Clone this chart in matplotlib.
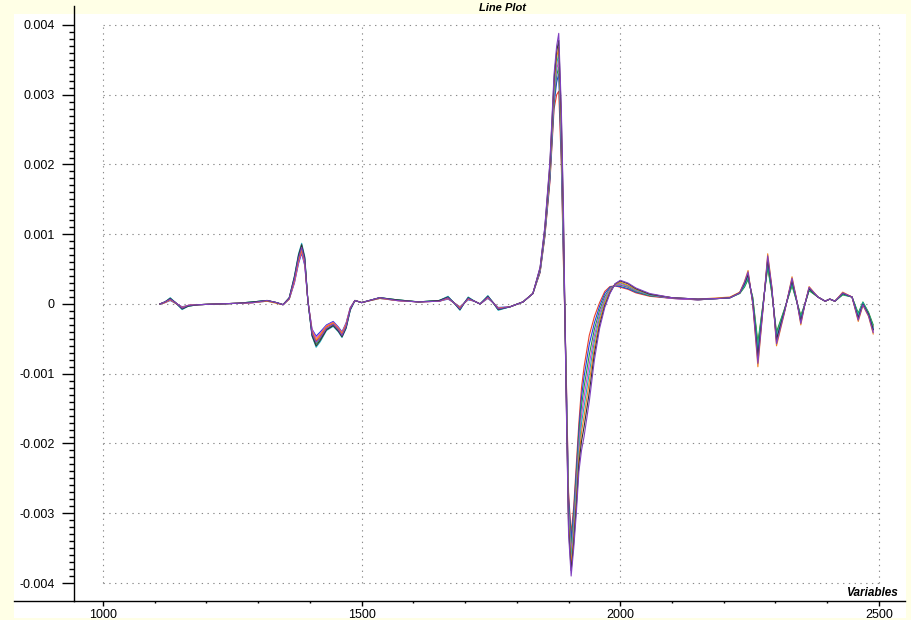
import numpy as np
import matplotlib
matplotlib.use("Agg")
import matplotlib.pyplot as plt
from matplotlib.lines import Line2D
from matplotlib.ticker import FixedLocator

plt.rcParams['font.family'] = ['Liberation Sans', 'DejaVu Sans']

# wavelength grid (variables)
wl = [1110, 1120, 1130, 1140, 1153, 1165, 1185, 1220, 1260, 1290,
      1317, 1335, 1348, 1360, 1370, 1378, 1384, 1390, 1396, 1404,
      1412, 1420, 1432, 1445, 1455, 1462, 1470, 1478, 1487, 1500,
      1535, 1568, 1610, 1650, 1667, 1678, 1690, 1698, 1706, 1718,
      1729, 1744, 1754, 1764, 1787, 1812, 1831, 1845, 1854, 1864,
      1872, 1877, 1881, 1886, 1890, 1895, 1900, 1905, 1910, 1915,
      1920, 1925, 1930, 1940, 1950, 1960, 1970, 1980, 1990, 2000,
      2015, 2030, 2057, 2100, 2150, 2193, 2212, 2231, 2240, 2247,
      2256, 2266, 2275, 2285, 2293, 2302, 2317, 2332, 2340, 2349,
      2357, 2365, 2382, 2396, 2405, 2415, 2430, 2448, 2460, 2469,
      2480, 2489]

# spectra, in units of 1e-4
spec_a = [0.0, 0.3, 0.7, 0.2, -0.6, -0.2, -0.1, 0.0, 0.1, 0.2,
          0.5, 0.2, -0.1, 0.8, 3.4, 6.4, 7.9, 6.1, 0.5, -4.0,
          -5.3, -4.6, -3.3, -2.8, -3.6, -4.3, -3.0, -0.7, 0.5, 0.2,
          0.9, 0.5, 0.3, 0.4, 0.9, 0.2, -0.6, 0.1, 0.8, 0.4,
          0.0, 1.0, 0.2, -0.7, -0.4, 0.3, 1.5, 4.5, 9.5, 17.5,
          28.0, 30.0, 30.5, 20.0, 6.0, -8.0, -27.0, -33.0, -29.0, -23.0,
          -17.0, -12.0, -9.0, -4.5, -1.8, 0.2, 1.8, 2.5, 2.6, 2.4,
          2.1, 1.6, 1.1, 0.8, 0.6, 0.8, 0.9, 1.6, 2.5, 3.7,
          0.9, -6.0, -0.6, 5.5, 1.6, -4.3, -0.9, 2.8, 0.7, -1.8,
          0.0, 2.0, 1.0, 0.4, 0.7, 0.4, 1.4, 1.0, -1.5, 0.2,
          -1.3, -3.2]
spec_b = [0.0, 0.2, 0.5, 0.1, -0.4, -0.2, -0.1, 0.0, 0.1, 0.2,
          0.4, 0.2, -0.1, 0.7, 3.0, 5.8, 7.3, 5.5, 0.5, -3.6,
          -4.6, -4.0, -3.0, -2.5, -3.3, -4.0, -2.7, -0.5, 0.5, 0.2,
          0.8, 0.5, 0.3, 0.4, 0.7, 0.2, -0.4, 0.1, 0.6, 0.4,
          0.0, 0.8, 0.2, -0.5, -0.4, 0.3, 1.5, 4.6, 9.7, 17.9,
          28.7, 31.8, 33.0, 21.1, 7.1, -8.6, -27.8, -33.8, -29.8, -24.0,
          -18.0, -13.3, -10.4, -5.8, -2.7, -0.3, 1.5, 2.4, 2.6, 2.5,
          2.2, 1.7, 1.2, 0.8, 0.6, 0.8, 0.9, 1.6, 2.7, 4.1,
          0.6, -7.0, -0.9, 6.1, 1.9, -4.9, -1.1, 3.2, 0.8, -2.2,
          0.0, 2.2, 1.0, 0.4, 0.7, 0.4, 1.5, 1.0, -1.8, 0.1,
          -1.5, -3.6]
spec_c = [0.0, 0.3, 0.8, 0.2, -0.7, -0.3, -0.1, 0.0, 0.1, 0.3,
          0.5, 0.2, -0.1, 0.8, 3.7, 6.8, 8.3, 6.4, 0.5, -4.3,
          -5.7, -5.0, -3.6, -3.0, -3.8, -4.6, -3.3, -0.8, 0.5, 0.2,
          0.9, 0.6, 0.3, 0.5, 1.0, 0.2, -0.8, 0.1, 0.9, 0.4,
          0.0, 1.1, 0.2, -0.8, -0.4, 0.3, 1.5, 4.7, 9.9, 18.4,
          29.5, 32.7, 34.0, 22.3, 8.3, -9.2, -28.7, -34.7, -30.7, -25.0,
          -19.0, -14.6, -11.9, -7.3, -3.6, -0.9, 1.1, 2.2, 2.7, 2.7,
          2.4, 1.8, 1.2, 0.9, 0.6, 0.8, 0.9, 1.5, 2.4, 3.5,
          1.0, -5.5, -0.5, 5.2, 1.5, -4.0, -0.8, 2.6, 0.6, -1.6,
          0.0, 1.9, 1.0, 0.4, 0.7, 0.4, 1.3, 1.0, -1.3, 0.3,
          -1.2, -3.0]
spec_d = [0.0, 0.2, 0.6, 0.2, -0.5, -0.2, -0.1, 0.0, 0.1, 0.2,
          0.5, 0.2, -0.1, 0.8, 3.1, 6.0, 7.5, 5.7, 0.5, -3.7,
          -4.8, -4.2, -3.1, -2.6, -3.4, -4.1, -2.8, -0.6, 0.5, 0.2,
          0.9, 0.5, 0.3, 0.4, 0.8, 0.2, -0.5, 0.1, 0.7, 0.4,
          0.0, 0.9, 0.2, -0.6, -0.4, 0.3, 1.5, 4.8, 10.1, 18.8,
          30.2, 33.6, 34.9, 23.4, 9.4, -9.7, -29.6, -35.6, -31.6, -26.0,
          -20.0, -15.9, -13.3, -8.6, -4.5, -1.4, 0.8, 2.1, 2.7, 2.8,
          2.5, 1.9, 1.3, 0.8, 0.6, 0.8, 0.9, 1.6, 3.0, 4.4,
          0.3, -8.0, -1.2, 6.6, 2.2, -5.4, -1.2, 3.5, 0.9, -2.6,
          0.0, 2.3, 1.0, 0.4, 0.7, 0.4, 1.6, 1.0, -2.2, 0.0,
          -1.6, -3.9]
spec_e = [0.0, 0.3, 0.9, 0.2, -0.8, -0.3, -0.1, 0.0, 0.1, 0.3,
          0.5, 0.2, -0.1, 0.9, 4.0, 7.2, 8.7, 6.8, 0.5, -4.6,
          -6.2, -5.4, -3.8, -3.2, -4.0, -4.8, -3.5, -0.9, 0.5, 0.2,
          0.9, 0.6, 0.3, 0.5, 1.1, 0.2, -0.9, 0.1, 1.0, 0.4,
          0.0, 1.2, 0.2, -0.9, -0.4, 0.3, 1.5, 5.0, 10.4, 19.2,
          30.9, 34.4, 35.9, 24.6, 10.6, -10.3, -30.4, -36.4, -32.4, -27.0,
          -21.0, -17.1, -14.7, -9.9, -5.3, -1.9, 0.5, 1.9, 2.8, 3.0,
          2.6, 2.0, 1.3, 0.9, 0.7, 0.8, 0.9, 1.6, 2.6, 3.9,
          0.7, -6.5, -0.8, 5.8, 1.8, -4.6, -1.0, 3.0, 0.7, -2.0,
          0.0, 2.1, 1.0, 0.4, 0.7, 0.4, 1.4, 1.0, -1.6, 0.2,
          -1.4, -3.4]
spec_f = [0.0, 0.2, 0.6, 0.1, -0.5, -0.2, -0.1, 0.0, 0.1, 0.2,
          0.4, 0.1, -0.1, 0.7, 3.3, 6.2, 7.7, 5.9, 0.5, -3.9,
          -5.1, -4.4, -3.2, -2.7, -3.5, -4.2, -2.9, -0.6, 0.5, 0.2,
          0.8, 0.5, 0.3, 0.4, 0.8, 0.2, -0.5, 0.1, 0.7, 0.4,
          0.0, 0.9, 0.2, -0.6, -0.4, 0.3, 1.5, 5.1, 10.6, 19.6,
          31.6, 35.3, 36.8, 25.7, 11.7, -10.8, -31.3, -37.3, -33.3, -28.0,
          -22.0, -18.4, -16.1, -11.2, -6.2, -2.4, 0.2, 1.8, 2.8, 3.1,
          2.7, 2.1, 1.4, 0.9, 0.7, 0.9, 1.0, 1.7, 3.2, 4.8,
          0.0, -9.0, -1.5, 7.2, 2.5, -6.0, -1.4, 3.9, 1.0, -3.0,
          0.0, 2.5, 1.0, 0.4, 0.7, 0.4, 1.7, 1.0, -2.5, -0.2,
          -1.8, -4.3]
spec_g = [0.0, 0.3, 0.8, 0.2, -0.7, -0.3, -0.1, 0.0, 0.1, 0.3,
          0.5, 0.2, -0.1, 0.9, 3.9, 7.0, 8.5, 6.6, 0.5, -4.5,
          -6.0, -5.2, -3.7, -3.1, -3.9, -4.7, -3.4, -0.8, 0.5, 0.2,
          0.9, 0.6, 0.3, 0.5, 1.0, 0.2, -0.8, 0.1, 0.9, 0.4,
          0.0, 1.1, 0.2, -0.8, -0.4, 0.3, 1.5, 5.2, 10.8, 20.1,
          32.3, 36.2, 37.8, 26.9, 12.9, -11.4, -32.2, -38.2, -34.2, -29.0,
          -23.0, -19.7, -17.6, -12.7, -7.1, -3.0, -0.2, 1.6, 2.9, 3.3,
          2.9, 2.2, 1.4, 0.9, 0.7, 0.8, 0.9, 1.6, 2.9, 4.2,
          0.4, -7.5, -1.1, 6.3, 2.1, -5.1, -1.1, 3.3, 0.8, -2.4,
          0.0, 2.2, 1.0, 0.4, 0.7, 0.4, 1.5, 1.0, -2.0, 0.0,
          -1.5, -3.7]
spec_h = [0.0, 0.3, 0.7, 0.2, -0.6, -0.2, -0.1, 0.0, 0.1, 0.2,
          0.5, 0.2, -0.1, 0.8, 3.6, 6.6, 8.1, 6.2, 0.5, -4.2,
          -5.5, -4.8, -3.5, -2.9, -3.7, -4.5, -3.2, -0.7, 0.5, 0.2,
          0.9, 0.5, 0.3, 0.4, 0.9, 0.2, -0.7, 0.1, 0.8, 0.4,
          0.0, 1.0, 0.2, -0.7, -0.4, 0.3, 1.5, 5.3, 11.0, 20.5,
          33.0, 37.0, 38.8, 28.0, 14.0, -12.0, -33.0, -39.0, -35.0, -30.0,
          -24.0, -21.0, -19.0, -14.0, -8.0, -3.5, -0.5, 1.5, 2.9, 3.4,
          3.0, 2.3, 1.5, 0.9, 0.7, 0.8, 0.9, 1.6, 3.1, 4.6,
          0.1, -8.5, -1.4, 6.9, 2.4, -5.7, -1.3, 3.7, 0.9, -2.8,
          0.0, 2.4, 1.0, 0.4, 0.7, 0.4, 1.6, 1.0, -2.3, -0.1,
          -1.7, -4.1]

spectra = [spec_a, spec_b, spec_c, spec_d, spec_e, spec_f, spec_g, spec_h]
colors = ['#e8402a', '#2040e0', '#20a040', '#d040d0',
          '#20b0c0', '#f08020', '#303030', '#8040c0']

xticks = [1000, 1500, 2000, 2500]
yticks = [0.004, 0.003, 0.002, 0.001, 0, -0.001, -0.002, -0.003, -0.004]
ylabels = ['0.004', '0.003', '0.002', '0.001', '0',
           '-0.001', '-0.002', '-0.003', '-0.004']

W, H = 911, 620
fig = plt.figure(figsize=(W / 100, H / 100), dpi=100, facecolor='#ffffe6')
# white panel behind the axes
fig.patches.append(plt.Rectangle((14 / W, 2 / H), 892 / W, 604 / H,
                                 transform=fig.transFigure, facecolor='white',
                                 edgecolor='none', zorder=-5))
ax = fig.add_axes([74 / W, 1 - 601 / H, 831 / W, 595 / H])
ax.set_facecolor('none')

for s, c in zip(spectra, colors):
    ax.plot(wl, np.array(s) * 1e-4, color=c, lw=0.8)

ax.set_xlim(943.9, 2550.4)
ax.set_ylim(-0.004258, 0.004272)

# dotted grid only over the tick range
grid_kw = dict(color='#8a8a8a', lw=0.8, linestyle=(0, (1.2, 4)), zorder=0)
ax.hlines(yticks, xticks[0], xticks[-1], **grid_kw)
ax.vlines(xticks, yticks[-1], yticks[0], **grid_kw)

ax.spines['top'].set_visible(False)
ax.spines['right'].set_visible(False)
ax.spines['left'].set_linewidth(1)
ax.spines['bottom'].set_linewidth(1)

ax.set_xticks(xticks)
ax.set_yticks(yticks)
ax.set_yticklabels(ylabels)
ax.xaxis.set_minor_locator(FixedLocator(np.arange(1000, 2501, 100)))
ax.yaxis.set_minor_locator(FixedLocator(np.arange(-40, 41) * 1e-4))
ax.tick_params(axis='y', which='major', length=9, width=1, pad=5, labelsize=9)
ax.tick_params(axis='y', which='minor', length=3.5, width=1)
ax.tick_params(axis='x', which='major', length=3.5, width=1, pad=2, labelsize=9)
ax.tick_params(axis='x', which='minor', length=1.5, width=1)

# bottom axis line runs on to the left edge of the panel
fig.add_artist(Line2D([14 / W, 74 / W], [1 - 601 / H, 1 - 601 / H],
                      color='black', lw=1))

fig.text(503 / W, 1 - 8 / H, 'Line Plot', ha='center', va='center',
         fontsize=8, fontweight='bold', fontstyle='italic')
fig.text(898 / W, 1 - 593 / H, 'Variables', ha='right', va='center',
         fontsize=8.5, fontweight='bold', fontstyle='italic')

fig.savefig('out.png', dpi=100, facecolor=fig.get_facecolor())
